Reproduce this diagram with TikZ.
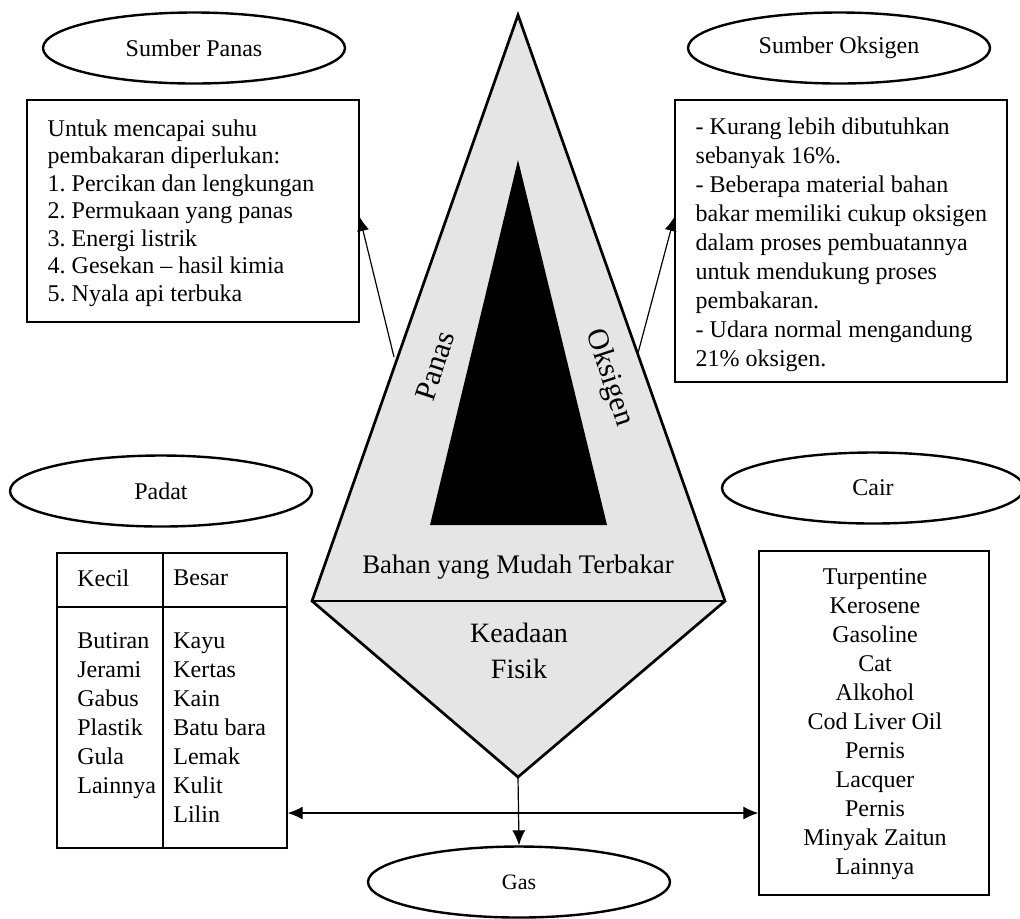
\documentclass[tikz,border=0pt]{standalone}
\usepackage{fontspec}
\setmainfont{Liberation Serif}
\frenchspacing
\usetikzlibrary{shapes.geometric,arrows.meta,calc}

\tikzset{
  oval/.style={ellipse, draw, line width=1.2pt, minimum width=151pt, minimum height=35.5pt, inner sep=0pt, font=\fontsize{12}{14}\selectfont},
  listbox/.style={rectangle, draw, line width=0.7pt, inner sep=0pt},
  listtext/.style={inner sep=0pt, font=\fontsize{12}{14.5}\selectfont},
  pointer/.style={-{Latex[length=7pt,width=6pt]}, line width=0.6pt},
}

\begin{document}
\begin{tikzpicture}[x=0.5pt,y=-0.5pt]
  \useasboundingbox (0,0) rectangle (1020,918);
  \coordinate (top) at (518,15);
  \coordinate (bl) at (312,601);
  \coordinate (br) at (725,601);
  \coordinate (bot) at (518,777);
  \filldraw[fill=black!10, line width=1.35pt] (top) -- (br) -- (bot) -- (bl) -- cycle;
  \draw[line width=1.35pt] (bl) -- (br);
  \fill (518,160) -- (607,525) -- (430,525) -- cycle;
  \node[rotate=72, inner sep=0pt, font=\fontsize{15}{15}\selectfont] (panaslbl) at (435,366) {Panas};
  \node[rotate=-72, inner sep=0pt, font=\fontsize{15}{15}\selectfont] (oksigenlbl) at (609,378) {Oksigen};
  \node[inner sep=0pt, font=\fontsize{13.4}{16}\selectfont] (bahan) at (518,567) {Bahan yang Mudah Terbakar};
  \node[inner sep=0pt, align=center, font=\fontsize{14}{18}\selectfont] (fisik) at (519,651) {Keadaan\\Fisik};

  \node[oval] (panas) at (194,48) {Sumber Panas};
  \node[oval] (oksigen) at (839,48) {Sumber Oksigen};
  \node[oval] (padat) at (161,491) {Padat};
  \node[oval] (cair) at (873,488) {Cair};
  \node[oval, font=\fontsize{11}{13}\selectfont] (gas) at (519,882) {Gas};

  \node[listbox, minimum width=166pt, minimum height=111pt] (panasbox) at (193,211) {};
  \node[listtext, anchor=north west, align=left, font=\fontsize{12}{13.75}\selectfont] (panastext) at ($(panasbox.north west)+(21,20)$)
    {Untuk mencapai suhu\\pembakaran diperlukan:\\1. Percikan dan lengkungan\\2. Permukaan yang panas\\3. Energi listrik\\4. Gesekan -- hasil kimia\\5. Nyala api terbuka};

  \node[listbox, minimum width=166pt, minimum height=141pt] (oksigenbox) at (841,241) {};
  \node[listtext, anchor=north west, align=left] (oksigentext) at ($(oksigenbox.north west)+(21,18)$)
    {- Kurang lebih dibutuhkan\\sebanyak 16\%.\\- Beberapa material bahan\\bakar memiliki cukup oksigen\\dalam proses pembuatannya\\untuk mendukung proses\\pembakaran.\\- Udara normal mengandung\\21\% oksigen.};

  \node[listbox, minimum width=115pt, minimum height=147.5pt] (padatbox) at (172,700.5) {};
  \draw[line width=0.7pt] (57,607) -- (287,607);
  \draw[line width=0.7pt] (163,553) -- (163,848);
  \node[listtext, anchor=west] (kecil) at (77,578) {Kecil};
  \node[listtext, anchor=west] (besar) at (173,578) {Besar};
  \node[listtext, anchor=north west, align=left] (kecillist) at (77,632)
    {Butiran\\Jerami\\Gabus\\Plastik\\Gula\\Lainnya};
  \node[listtext, anchor=north west, align=left] (besarlist) at (173,632)
    {Kayu\\Kertas\\Kain\\Batu bara\\Lemak\\Kulit\\Lilin};

  \node[listbox, minimum width=115pt, minimum height=172pt] (cairbox) at (874,723) {};
  \node[listtext, anchor=north, align=center] (cairtext) at ($(cairbox.north)+(1,18)$)
    {Turpentine\\Kerosene\\Gasoline\\Cat\\Alkohol\\Cod Liver Oil\\Pernis\\Lacquer\\Pernis\\Minyak Zaitun\\Lainnya};

  \coordinate (panasfoot) at (394,357);
  \coordinate (oksigenfoot) at (638,353);
  \coordinate (split) at (518,813);
  \draw[pointer] (panasfoot) -- ($(panasbox.east)+(0,6)$);
  \draw[pointer] (oksigenfoot) -- ($(oksigenbox.west)+(0,-24)$);
  \draw[{Latex[length=7.5pt,width=6.5pt]}-{Latex[length=7.5pt,width=6.5pt]}, line width=0.6pt] (split -| padatbox.east) -- (split -| cairbox.west);
  \draw[-{Latex[length=7.5pt,width=6.5pt]}, line width=0.6pt] (bot) -- (gas.north);
\end{tikzpicture}
\end{document}
